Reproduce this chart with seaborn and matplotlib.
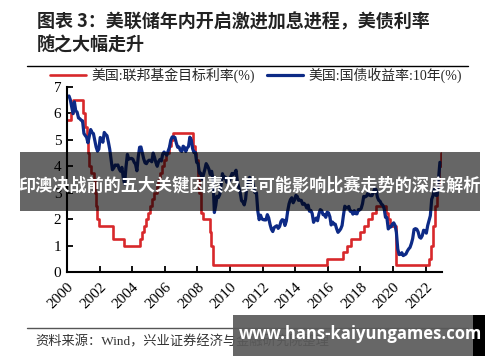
import numpy as np
import pandas as pd
import matplotlib
matplotlib.use("Agg")
import matplotlib.pyplot as plt
from matplotlib.patches import Rectangle
from matplotlib.lines import Line2D
import seaborn as sns

# ---------------- data ----------------
fed_dates = ['2000-01-01', '2000-03-21', '2000-05-16', '2001-01-03', '2001-01-31', '2001-03-20',
             '2001-04-18', '2001-05-15', '2001-06-27', '2001-08-21', '2001-09-17', '2001-10-02',
             '2001-11-06', '2001-12-11', '2002-11-06', '2003-06-25', '2004-06-30', '2004-08-10',
             '2004-09-21', '2004-11-10', '2004-12-14', '2005-02-02', '2005-03-22', '2005-05-03',
             '2005-06-30', '2005-08-09', '2005-09-20', '2005-11-01', '2005-12-13', '2006-01-31',
             '2006-03-28', '2006-05-10', '2006-06-29', '2007-09-18', '2007-10-31', '2007-12-11',
             '2008-01-22', '2008-01-30', '2008-03-18', '2008-04-30', '2008-10-08', '2008-10-29',
             '2008-12-16', '2015-12-16', '2016-12-14', '2017-03-15', '2017-06-14', '2017-12-13',
             '2018-03-21', '2018-06-13', '2018-09-26', '2018-12-19', '2019-07-31', '2019-09-18',
             '2019-10-30', '2020-03-03', '2020-03-15', '2022-03-16', '2022-05-04', '2022-06-15',
             '2022-07-27', '2022-09-21', '2022-11-02', '2022-12-14', '2022-12-20']
fed_rates = [5.75, 6.0, 6.5, 6.0, 5.5, 5.0,
             4.5, 4.0, 3.75, 3.5, 3.0, 2.5,
             2.0, 1.75, 1.25, 1.0, 1.25, 1.5,
             1.75, 2.0, 2.25, 2.5, 2.75, 3.0,
             3.25, 3.5, 3.75, 4.0, 4.25, 4.5,
             4.75, 5.0, 5.25, 4.75, 4.5, 4.25,
             3.5, 3.0, 2.25, 2.0, 1.5, 1.0,
             0.25, 0.5, 0.75, 1.0, 1.25, 1.5,
             1.75, 2.0, 2.25, 2.5, 2.25, 2.0,
             1.75, 1.25, 0.25, 0.5, 1.0, 1.75,
             2.5, 3.25, 4.0, 4.5, 4.5]

t10_start = '2000-01-15'
t10_values = [
    6.66, 6.52, 6.26, 5.99, 6.44, 6.10, 6.05, 5.83, 5.80, 5.74, 5.72, 5.24,   # 2000
    5.16, 5.10, 4.89, 5.14, 5.39, 5.28, 5.24, 4.97, 4.73, 4.57, 4.65, 5.09,   # 2001
    5.04, 4.91, 5.28, 5.21, 5.16, 4.93, 4.65, 4.26, 3.87, 3.94, 4.05, 4.03,   # 2002
    4.05, 3.90, 3.81, 3.96, 3.57, 3.33, 3.98, 4.45, 4.27, 4.29, 4.30, 4.27,   # 2003
    4.15, 4.08, 3.83, 4.35, 4.72, 4.73, 4.50, 4.28, 4.13, 4.10, 4.19, 4.23,   # 2004
    4.22, 4.17, 4.50, 4.34, 4.14, 4.00, 4.18, 4.26, 4.20, 4.46, 4.54, 4.47,   # 2005
    4.42, 4.57, 4.72, 4.99, 5.11, 5.11, 5.09, 4.88, 4.72, 4.73, 4.60, 4.56,   # 2006
    4.76, 4.72, 4.56, 4.69, 4.75, 5.10, 5.00, 4.67, 4.52, 4.53, 4.15, 4.10,   # 2007
    3.74, 3.74, 3.51, 3.68, 3.88, 4.10, 4.01, 3.89, 3.69, 3.81, 3.53, 2.25,   # 2008
    2.52, 2.87, 2.82, 2.93, 3.29, 3.72, 3.56, 3.59, 3.40, 3.39, 3.40, 3.59,   # 2009
    3.73, 3.69, 3.73, 3.85, 3.42, 3.20, 3.01, 2.70, 2.65, 2.54, 2.76, 3.29,   # 2010
    3.39, 3.58, 3.41, 3.46, 3.17, 3.00, 3.00, 2.30, 1.98, 2.15, 2.01, 1.98,   # 2011
    1.97, 1.97, 2.17, 2.05, 1.80, 1.62, 1.53, 1.68, 1.72, 1.75, 1.65, 1.72,   # 2012
    1.91, 1.98, 1.96, 1.76, 1.93, 2.30, 2.58, 2.74, 2.81, 2.62, 2.72, 2.90,   # 2013
    2.86, 2.71, 2.72, 2.71, 2.56, 2.60, 2.54, 2.42, 2.53, 2.30, 2.33, 2.21,   # 2014
    1.88, 1.98, 2.04, 1.94, 2.20, 2.36, 2.32, 2.17, 2.17, 2.07, 2.26, 2.24,   # 2015
    2.09, 1.78, 1.89, 1.81, 1.81, 1.64, 1.50, 1.56, 1.63, 1.76, 2.14, 2.49,   # 2016
    2.43, 2.42, 2.48, 2.30, 2.30, 2.19, 2.32, 2.21, 2.20, 2.36, 2.35, 2.40,   # 2017
    2.58, 2.86, 2.84, 2.87, 2.98, 2.91, 2.89, 2.89, 3.00, 3.15, 3.12, 2.83,   # 2018
    2.71, 2.68, 2.57, 2.53, 2.40, 2.07, 2.06, 1.63, 1.70, 1.71, 1.81, 1.86,   # 2019
    1.76, 1.50, 0.87, 0.66, 0.67, 0.73, 0.62, 0.65, 0.68, 0.79, 0.87, 0.93,   # 2020
    1.08, 1.26, 1.61, 1.64, 1.62, 1.52, 1.32, 1.28, 1.37, 1.58, 1.56, 1.47,   # 2021
    1.76, 1.93, 2.13, 2.75, 2.90, 3.14, 2.90, 2.90, 3.52, 4.15,               # 2022
]

year_ticks = list(range(2000, 2023, 2))
y_ticks = [0, 1, 2, 3, 4, 5, 6, 7]

label_fed = "美国:联邦基金目标利率(%)"
label_t10 = "美国:国债收益率:10年(%)"
title_line1 = "图表 3：美联储年内开启激进加息进程，美债利率"
title_line2 = "随之大幅走升"
source_text = "资料来源：Wind，兴业证券经济与金融研究院整理"
banner_text = "印澳决战前的五大关键因素及其可能影响比赛走势的深度解析"
url_text = "www.hans-kaiyungames.com"

# ---------------- frames ----------------
def to_year(d):
    d = pd.to_datetime(d)
    return d.year + (d.dayofyear - 1) / (366 if d.is_leap_year else 365)

fed_df = pd.DataFrame({"year": [to_year(d) for d in fed_dates], "rate": fed_rates})
t10_dates = pd.date_range(t10_start, periods=len(t10_values), freq="MS") + pd.Timedelta(days=14)
t10_df = pd.DataFrame({"year": [to_year(d) for d in t10_dates], "rate": t10_values})

# ---------------- style ----------------
sns.set_style("ticks")
plt.rcParams["font.family"] = ["Liberation Serif", "Noto Sans CJK SC"]
plt.rcParams["axes.unicode_minus"] = False

W, H = 500, 362
fig = plt.figure(figsize=(5.0, 3.62), dpi=100)
ax = fig.add_axes([67 / W, 1 - 272 / H, (442 - 67) / W, (272 - 87) / H])

red = "#d8282b"
navy = "#0d2a86"

sns.lineplot(data=fed_df, x="year", y="rate", ax=ax, color=red, lw=1.9,
             drawstyle="steps-post", label=label_fed, estimator=None, sort=False)
sns.lineplot(data=t10_df, x="year", y="rate", ax=ax, color=navy, lw=2.3,
             label=label_t10, estimator=None, sort=False)

ax.set_xlim(2000, 2023)
ax.set_ylim(0, 7)
ax.set_xticks(year_ticks)
ax.set_xticklabels([str(y) for y in year_ticks], rotation=45, ha="right",
                   rotation_mode="anchor", fontsize=11)
ax.set_yticks(y_ticks)
ax.set_yticklabels([str(v) for v in y_ticks], fontsize=11)
ax.set_xlabel("")
ax.set_ylabel("")
ax.tick_params(direction="in", length=4, width=1.3, colors="black", pad=4)
ax.tick_params(axis="x", pad=6)
for s in ["top", "right"]:
    ax.spines[s].set_visible(False)
for s in ["left", "bottom"]:
    ax.spines[s].set_linewidth(1.5)
    ax.spines[s].set_color("black")

ax.legend(loc="center", bbox_to_anchor=(0.512, 1 - 75 / H), bbox_transform=fig.transFigure,
          ncol=2, frameon=False, handlelength=2.6, columnspacing=0.9, handletextpad=0.4,
          fontsize=10)

# ---------------- titles / rules ----------------
fig.text(37 / W, 1 - 22 / H, title_line1, fontsize=13, fontweight="bold",
         family=["Noto Sans CJK SC"], va="center", ha="left", color="#222222")
fig.text(37 / W, 1 - 45 / H, title_line2, fontsize=13, fontweight="bold",
         family=["Noto Sans CJK SC"], va="center", ha="left", color="#222222")
fig.add_artist(Line2D([27 / W, 468 / W], [1 - 66 / H] * 2, color="black", lw=1.0))
fig.add_artist(Line2D([27 / W, 468 / W], [1 - 328 / H] * 2, color="#555555", lw=1.0))
fig.text(35 / W, 1 - 342 / H, source_text, fontsize=9.5, family=["Liberation Serif", "Noto Sans CJK SC"],
         va="center", ha="left", color="#333333")

# ---------------- overlay banners ----------------
fig.add_artist(Rectangle((20 / W, 1 - 211 / H), 460 / W, 59 / H, transform=fig.transFigure,
                         facecolor="black", alpha=0.6, edgecolor="none", zorder=10))
fig.text(249 / W, 1 - 186 / H, banner_text, fontsize=12.3, fontweight="bold",
         family=["Noto Sans CJK SC"], color="white", va="center", ha="center", zorder=11)

fig.add_artist(Rectangle((233 / W, 1 - 356 / H), 240 / W, 41 / H, transform=fig.transFigure,
                         facecolor="#5a5a5a", alpha=0.92, edgecolor="none", zorder=10))
fig.add_artist(Rectangle((473 / W, 1 - 356 / H), 12 / W, 41 / H, transform=fig.transFigure,
                         facecolor="black", edgecolor="none", zorder=10))
fig.text(360 / W, 1 - 334 / H, url_text, fontsize=12, fontweight="bold",
         family=["Open Sans", "DejaVu Sans"], color="white", va="center", ha="center", zorder=11)

fig.savefig("out.png", dpi=100, facecolor="white")
